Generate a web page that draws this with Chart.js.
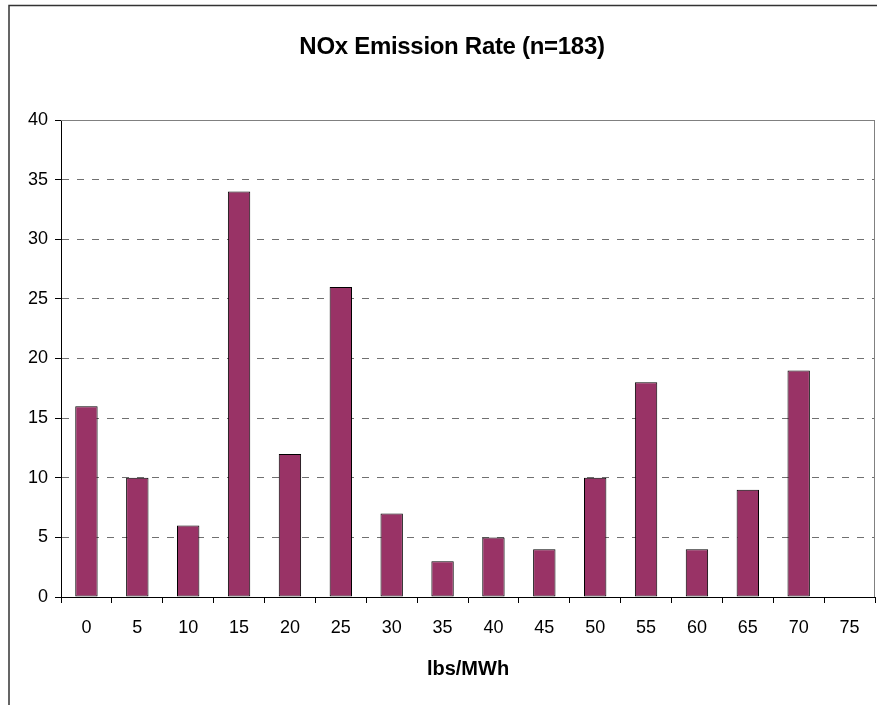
<!DOCTYPE html>
<html>
<head>
<meta charset="utf-8">
<title>NOx Emission Rate</title>
<script src="https://cdn.jsdelivr.net/npm/chart.js@4.4.1/dist/chart.umd.min.js"></script>
<style>
  html, body { margin: 0; padding: 0; background: #fff; overflow: hidden; }
  canvas { display: block; }
</style>
</head>
<body>
<canvas id="chart" width="877" height="705"></canvas>
<script>
// Emission-rate bins (lbs/MWh) and number of units falling in each bin
const rateBins = ['0', '5', '10', '15', '20', '25', '30', '35', '40', '45', '50', '55', '60', '65', '70', '75'];
const unitCounts = [16, 10, 6, 34, 12, 26, 7, 3, 5, 4, 10, 18, 4, 9, 19, 0];
const countAxisMax = 40;
const countAxisStep = 5;
const chartTitle = 'NOx Emission Rate (n=183)';
const rateAxisTitle = 'lbs/MWh';

const FONT = '"Liberation Sans", Arial, sans-serif';

// Outer frame, plot-area outline and the chart heading
const decorations = {
  id: 'decorations',
  beforeDraw(chart) {
    const ctx = chart.ctx;
    ctx.save();
    ctx.fillStyle = '#fff';
    ctx.fillRect(0, 0, chart.width, chart.height);
    ctx.strokeStyle = '#333';
    ctx.lineWidth = 1.5;
    ctx.beginPath();
    ctx.moveTo(9, chart.height);
    ctx.lineTo(9, 5.5);
    ctx.lineTo(chart.width, 5.5);
    ctx.stroke();
    ctx.restore();
  },
  beforeDatasetsDraw(chart) {
    const { ctx, chartArea: a } = chart;
    ctx.save();
    ctx.strokeStyle = '#808080';
    ctx.lineWidth = 1;
    ctx.beginPath();
    ctx.moveTo(a.left, a.top + 0.5);
    ctx.lineTo(a.right - 0.5, a.top + 0.5);
    ctx.lineTo(a.right - 0.5, a.bottom);
    ctx.stroke();
    ctx.restore();
  },
  afterDraw(chart) {
    const ctx = chart.ctx;
    ctx.save();
    ctx.fillStyle = '#000';
    ctx.font = 'bold 24px ' + FONT;
    ctx.letterSpacing = '-0.3px';
    ctx.textAlign = 'center';
    ctx.textBaseline = 'alphabetic';
    ctx.fillText(chartTitle, 452, 54);
    ctx.restore();
  }
};

Chart.defaults.font.family = FONT;
Chart.defaults.color = '#000';

new Chart(document.getElementById('chart'), {
  type: 'bar',
  data: {
    labels: rateBins,
    datasets: [{
      data: unitCounts,
      backgroundColor: '#993366',
      borderColor: '#000',
      borderWidth: 1,
      borderSkipped: false,
      barPercentage: 0.44,
      categoryPercentage: 1
    }]
  },
  options: {
    responsive: false,
    animation: false,
    devicePixelRatio: 1,
    layout: { padding: { top: 120, left: 8, right: 2, bottom: 0 } },
    plugins: {
      legend: { display: false },
      title: { display: false },
      tooltip: { enabled: false }
    },
    scales: {
      x: {
        offset: true,
        afterFit(scale) { scale.height = 108; },
        grid: {
          display: true,
          offset: true,
          drawOnChartArea: false,
          drawTicks: true,
          tickLength: 6,
          tickColor: '#000',
          tickWidth: 1
        },
        border: { display: true, color: '#000', width: 1 },
        ticks: {
          padding: 14,
          maxRotation: 0,
          autoSkip: false,
          font: { size: 18 },
          color: '#000'
        },
        title: {
          display: true,
          text: rateAxisTitle,
          font: { size: 20, weight: 'bold' },
          color: '#000',
          padding: { top: 0, bottom: 24 }
        }
      },
      y: {
        min: 0,
        max: countAxisMax,
        afterFit(scale) { scale.width = 53; },
        grid: {
          color: (ctx) => (ctx.tick && ctx.tick.value === 0) ? 'rgba(0,0,0,0)' : '#707070',
          lineWidth: 1,
          drawTicks: true,
          tickLength: 6,
          tickColor: '#000',
          tickWidth: 1,
          tickBorderDash: []
        },
        border: { display: true, color: '#000', width: 1, dash: [7, 8] },
        ticks: {
          stepSize: countAxisStep,
          padding: 7,
          font: { size: 18 },
          color: '#000'
        }
      }
    }
  },
  plugins: [decorations]
});
</script>
</body>
</html>
